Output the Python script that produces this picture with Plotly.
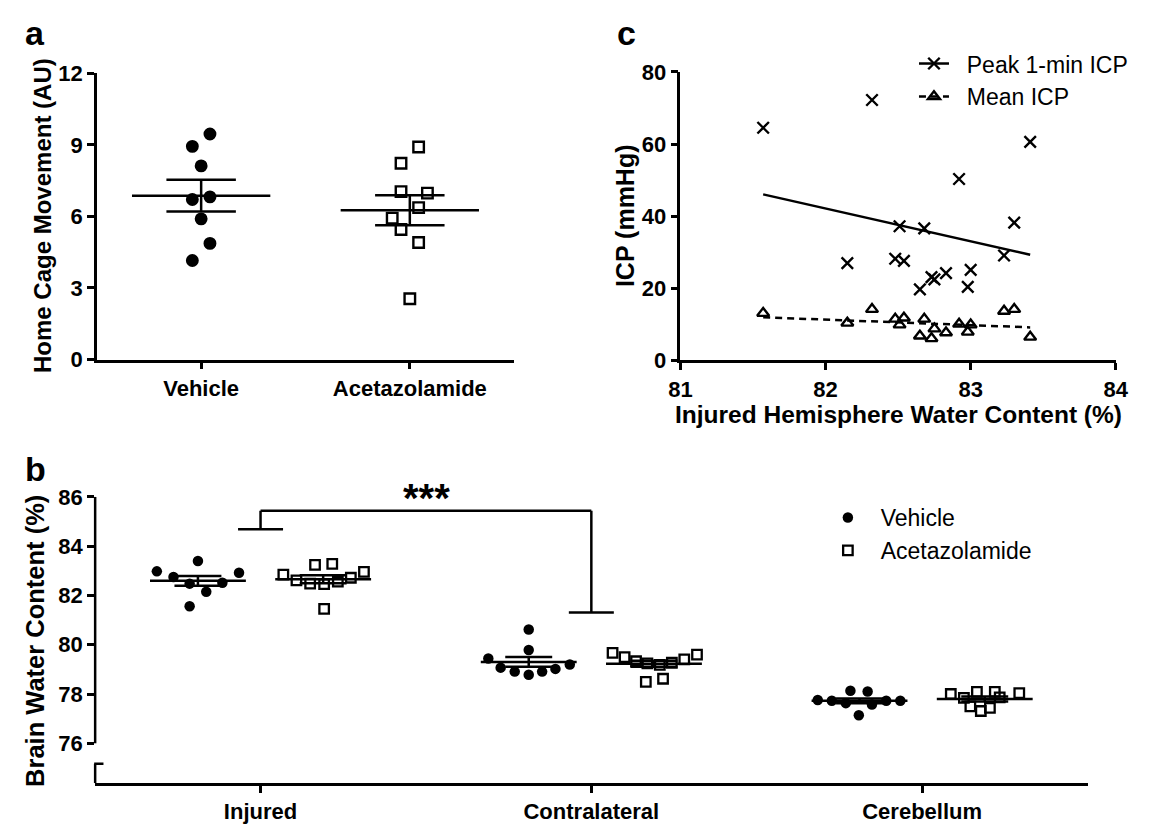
import numpy as np
import plotly.graph_objects as go

W, H = 1151, 830
FONT = "Arial, Liberation Sans, Helvetica, sans-serif"
NB = "\u00a0"

# ---------------- data ----------------
# Panel a: home cage movement
a_groups = ["Vehicle", "Acetazolamide"]
a_vehicle = [9.46, 8.94, 8.12, 6.71, 6.82, 5.90, 4.87, 4.15]
a_acetazolamide = [8.91, 8.23, 7.04, 6.98, 6.37, 5.93, 5.45, 4.91, 2.55]
a_yticks = [0, 3, 6, 9, 12]

# Panel b: brain water content
b_regions = ["Injured", "Contralateral", "Cerebellum"]
b_vehicle_injured = [82.98, 82.75, 82.48, 81.56, 83.40, 82.15, 82.52, 82.92]
b_vehicle_contralateral = [79.44, 79.07, 78.91, 80.62, 79.79, 78.78, 78.91, 79.02, 79.20]
b_vehicle_cerebellum = [77.76, 77.73, 77.63, 78.13, 77.14, 78.10, 77.57, 77.73, 77.73]
b_acet_injured = [82.85, 82.61, 82.48, 83.24, 82.46, 83.28, 82.56, 82.72, 82.96, 81.46]
b_acet_contralateral = [79.67, 79.50, 79.33, 79.24, 79.18, 79.27, 79.41, 79.60, 78.49, 78.62]
b_acet_cerebellum = [78.00, 77.84, 77.50, 78.09, 77.31, 77.44, 78.09, 77.86, 78.04]
b_yticks = [76, 78, 80, 82, 84, 86]

# Panel c: ICP vs injured hemisphere water content
c_water = [81.57, 82.15, 82.32, 82.48, 82.51, 82.54, 82.65, 82.68, 82.73, 82.75,
           82.83, 82.92, 82.98, 83.00, 83.23, 83.30, 83.41]
c_peak_icp = [64.5, 27.0, 72.2, 28.2, 37.2, 27.6, 19.7, 36.6, 23.1, 22.5,
              24.2, 50.3, 20.4, 25.1, 29.1, 38.2, 60.6]
c_mean_icp = [13.1, 10.4, 14.2, 11.5, 9.9, 11.8, 6.8, 11.5, 6.1, 8.8,
              7.7, 10.1, 7.9, 9.9, 13.7, 14.2, 6.5]
c_xticks = [81, 82, 83, 84]
c_yticks = [0, 20, 40, 60, 80]

# ---------------- layout geometry (pixels) ----------------
A_X, A_Y = (86.7, 513.3), (63.3, 358.3)
C_X, C_Y = (683.3, 1128.3), (61.7, 359.3)
B_X, B_Y = (85.0, 1099.4), (500.0, 795.0)
B_YRANGE = [74.386, 86.0]

def xdom(p):
    return [p[0] / W, p[1] / W]

def ydom(p):
    return [1 - p[1] / H, 1 - p[0] / H]

A_PX = (A_X[1] - A_X[0]) / 2.0     # px per category unit, panel a
B_PX = (B_X[1] - B_X[0]) / 3.0     # px per category unit, panel b

# scatter (beeswarm) offsets in pixels
a_off_vehicle = [9, -9, 0, -9, 9, 0, 9, -9]
a_off_acet = [9, -9, -9, 18, 9, -18, -9, 9, 0]
b_off_vehicle = [
    [-42, -25, -8.5, -8.5, 0, 8.5, 25, 42],
    [-41.3, -28.7, -14.3, 0, 0, 0, 13.7, 27.3, 42],
    [-42.7, -28.3, -14, -9.3, -0.7, 8.3, 12.7, 27.3, 41.7],
]
b_off_acet = [
    [-40.7, -27.3, -13.3, -8.3, 1, 9.3, 15, 28.3, 41.7, 1],
    [-42.3, -30, -18.3, -6.7, 6, 18.3, 31, 44, -8.3, 9.3],
    [-34.7, -21.3, -14.7, -8, -4, 5.3, 10.3, 15.3, 35.3],
]
B_GROUP_SHIFT = 64.0  # px from region tick to group centre


def mean_sem(v):
    v = np.asarray(v, dtype=float)
    return v.mean(), v.std(ddof=1) / np.sqrt(len(v))


def err_segments(center, values, half_mean, half_cap):
    m, s = mean_sem(values)
    xs = [center - half_mean, center + half_mean, None,
          center - half_cap, center + half_cap, None,
          center - half_cap, center + half_cap, None,
          center, center]
    ys = [m, m, None, m + s, m + s, None, m - s, m - s, None, m - s, m + s]
    return xs, ys


fig = go.Figure()
LW = 2.5

# ---------------- Panel a ----------------
for gi, (vals, offs, sym, size) in enumerate([
        (a_vehicle, a_off_vehicle, "circle", 10.5),
        (a_acetazolamide, a_off_acet, "square-open", 10.5)]):
    cx = gi + 0.5
    fig.add_trace(go.Scatter(
        x=[cx + o / A_PX for o in offs], y=vals, mode="markers",
        marker=dict(symbol=sym, size=size, color="black",
                    line=dict(color="black", width=2.4)),
        xaxis="x", yaxis="y", showlegend=False, hoverinfo="skip"))
    ex, ey = err_segments(cx, vals, 70.7 / A_PX, 35.5 / A_PX)
    fig.add_trace(go.Scatter(x=ex, y=ey, mode="lines",
                             line=dict(color="black", width=LW),
                             xaxis="x", yaxis="y", showlegend=False,
                             hoverinfo="skip"))

# ---------------- Panel b ----------------
b_vehicle = [b_vehicle_injured, b_vehicle_contralateral, b_vehicle_cerebellum]
b_acet = [b_acet_injured, b_acet_contralateral, b_acet_cerebellum]

vx, vy, ax_, ay = [], [], [], []
for ri in range(3):
    cv = ri + 0.5 - B_GROUP_SHIFT / B_PX
    ca = ri + 0.5 + B_GROUP_SHIFT / B_PX
    vx += [cv + o / B_PX for o in b_off_vehicle[ri]]
    vy += b_vehicle[ri]
    ax_ += [ca + o / B_PX for o in b_off_acet[ri]]
    ay += b_acet[ri]

fig.add_trace(go.Scatter(
    x=vx, y=vy, mode="markers", name=NB + NB + "Vehicle",
    marker=dict(symbol="circle", size=10.5, color="black"),
    xaxis="x3", yaxis="y3", legend="legend", hoverinfo="skip"))
fig.add_trace(go.Scatter(
    x=ax_, y=ay, mode="markers", name=NB + NB + "Acetazolamide",
    marker=dict(symbol="square-open", size=9.5, color="black",
                line=dict(color="black", width=2.3)),
    xaxis="x3", yaxis="y3", legend="legend", hoverinfo="skip"))

for ri in range(3):
    for shift, vals in ((-B_GROUP_SHIFT, b_vehicle[ri]), (B_GROUP_SHIFT, b_acet[ri])):
        cx = ri + 0.5 + shift / B_PX
        ex, ey = err_segments(cx, vals, 49 / B_PX, 24 / B_PX)
        fig.add_trace(go.Scatter(x=ex, y=ey, mode="lines",
                                 line=dict(color="black", width=LW),
                                 xaxis="x3", yaxis="y3", showlegend=False,
                                 hoverinfo="skip"))

# ---------------- Panel c ----------------
DASH = "7px,5px"
cw = np.asarray(c_water)
for vals, sym, dash, name in (
        (c_peak_icp, "x-thin", "solid", "Peak 1-min ICP"),
        (c_mean_icp, "triangle-up-open", DASH, "Mean ICP")):
    msize = 11.5 if sym == "x-thin" else 10.5
    fig.add_trace(go.Scatter(
        x=c_water, y=vals, mode="markers",
        marker=dict(symbol=sym, size=msize, color="black",
                    line=dict(color="black", width=2.4)),
        xaxis="x2", yaxis="y2", showlegend=False, hoverinfo="skip"))
    slope, icpt = np.polyfit(cw, np.asarray(vals), 1)
    xl = [cw.min(), cw.max()]
    fig.add_trace(go.Scatter(
        x=xl, y=[slope * v + icpt for v in xl], mode="lines",
        line=dict(color="black", width=LW, dash=dash),
        xaxis="x2", yaxis="y2", showlegend=False, hoverinfo="skip"))
    # legend entry (line + marker)
    fig.add_trace(go.Scatter(
        x=[None], y=[None], mode="lines+markers", name=NB + NB + name,
        line=dict(color="black", width=LW, dash=dash),
        marker=dict(symbol=sym, size=msize, color="black",
                    line=dict(color="black", width=2.4)),
        xaxis="x2", yaxis="y2", legend="legend2", hoverinfo="skip"))

# ---------------- axes ----------------
tickfont = dict(family=FONT, size=22, color="black", weight="bold")
common = dict(showgrid=False, zeroline=False, ticks="outside", ticklen=7,
              tickwidth=LW, tickcolor="black", linecolor="black", linewidth=LW,
              tickfont=tickfont, fixedrange=True)

fig.update_layout(
    width=W, height=H, margin=dict(l=0, r=0, t=0, b=0),
    paper_bgcolor="white", plot_bgcolor="rgba(0,0,0,0)",
    font=dict(family=FONT, color="black"),
    xaxis=dict(domain=xdom(A_X), range=[0, 2], tickvals=[0.5, 1.5],
               ticktext=a_groups, showline=True, anchor="y", **common),
    yaxis=dict(domain=ydom(A_Y), range=[0, 12], tickvals=a_yticks,
               showline=True, anchor="x", **common),
    xaxis2=dict(domain=xdom(C_X), range=[81, 84], tickvals=c_xticks,
                showline=True, anchor="y2", **common),
    yaxis2=dict(domain=ydom(C_Y), range=[0, 80], tickvals=c_yticks,
                showline=True, anchor="x2", **common),
    xaxis3=dict(domain=xdom(B_X), range=[0, 3], tickvals=[0.5, 1.5, 2.5],
                ticktext=b_regions, showline=True, anchor="y3", **common),
    yaxis3=dict(domain=ydom(B_Y), range=B_YRANGE, tickvals=b_yticks,
                showline=False, anchor="x3", **common),
    legend=dict(x=834 / W, y=1 - 499 / H, xanchor="left", yanchor="top",
                font=dict(family=FONT, size=23, color="black"),
                bgcolor="rgba(0,0,0,0)", borderwidth=0, itemwidth=30,
                tracegroupgap=0),
    legend2=dict(x=922 / W, y=1 - 31 / H, xanchor="left", yanchor="top",
                 font=dict(family=FONT, size=23, color="black"),
                 bgcolor="rgba(0,0,0,0)", borderwidth=0, itemwidth=30,
                 tracegroupgap=0),
)

# ---------------- shapes: panel b broken y-axis and significance bracket ----------------
def b_ypaper(v):
    d0, d1 = ydom(B_Y)
    return d0 + (v - B_YRANGE[0]) / (B_YRANGE[1] - B_YRANGE[0]) * (d1 - d0)

line_style = dict(color="black", width=LW)
xa = B_X[0] / W
shapes = [
    dict(type="line", xref="paper", yref="paper", x0=xa, x1=xa,
         y0=b_ypaper(76), y1=b_ypaper(86), line=line_style),
    dict(type="line", xref="paper", yref="paper", x0=xa, x1=xa,
         y0=b_ypaper(B_YRANGE[0]), y1=b_ypaper(75.17), line=line_style),
    dict(type="line", xref="paper", yref="paper", x0=xa - 1 / W, x1=xa + 8.5 / W,
         y0=b_ypaper(75.17), y1=b_ypaper(75.17), line=line_style),
]
cap = 23 / B_PX
br_left, br_top, br_right = 84.69, 85.44, 81.31
for (x0, y0, x1, y1) in [
        (0.5 - cap, br_left, 0.5 + cap, br_left),
        (0.5, br_left, 0.5, br_top),
        (0.5, br_top, 1.5, br_top),
        (1.5, br_top, 1.5, br_right),
        (1.5 - cap, br_right, 1.5 + cap, br_right)]:
    shapes.append(dict(type="line", xref="x3", yref="y3", x0=x0, y0=y0,
                       x1=x1, y1=y1, line=line_style))
fig.update_layout(shapes=shapes)

# ---------------- annotations ----------------
def ann(text, x, y, size, bold=True, angle=0):
    return dict(text=text, x=x / W, y=1 - y / H, xref="paper", yref="paper",
                showarrow=False, xanchor="center", yanchor="middle",
                textangle=angle,
                font=dict(family=FONT, size=size, color="black",
                          weight="bold" if bold else "normal"))

annotations = [
    ann("a", 24, 22, 34),
    ann("b", 24, 471, 34),
    ann("c", 628, 22, 34),
    ann("Home Cage Movement (AU)", 31, 210, 24, angle=-90),
    ann("Brain Water Content (%)", 24, 648, 25.5, angle=-90),
    ann("ICP (mmHg)", 626, 210, 25, angle=-90),
    ann("Injured Hemisphere Water Content (%)", 906, 415, 24.5),
    ann("***", 424, 501, 40),
]
fig.update_layout(annotations=annotations)

fig.write_html("out.html")
